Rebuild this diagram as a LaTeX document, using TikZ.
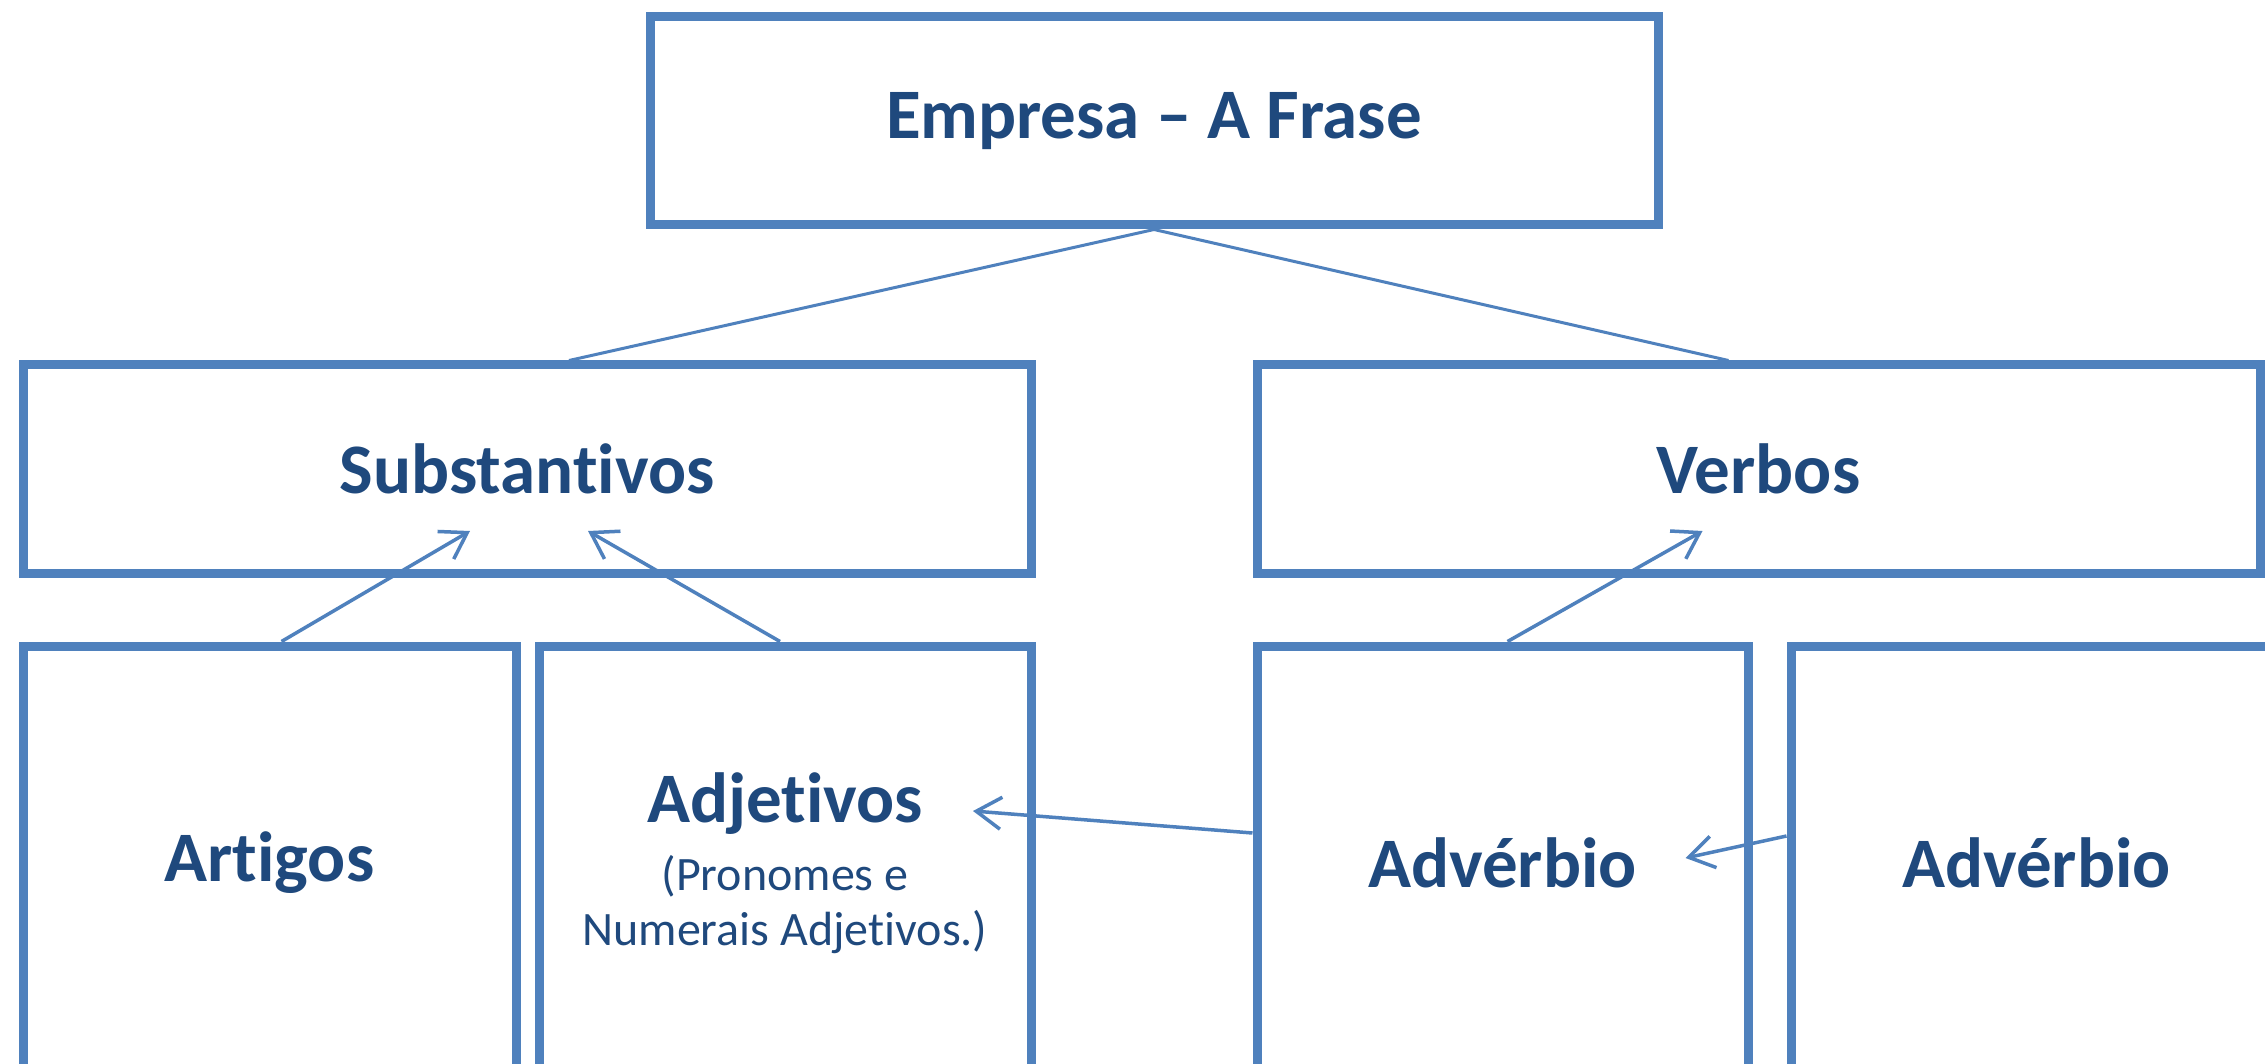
\documentclass[tikz,border=0pt]{standalone}
\usepackage{fontspec}
\setmainfont{Carlito}[Ligatures={TeX,NoCommon}]
\usetikzlibrary{arrows.meta}
\definecolor{boxblue}{HTML}{4F81BD}
\definecolor{txtblue}{HTML}{1F497D}
\begin{document}
\begin{tikzpicture}[x=1pt,y=-1pt,
  box/.style={draw=boxblue, line width=9pt, inner sep=0pt, text=txtblue,
    font=\fontsize{71}{80}\selectfont\bfseries, align=center},
  topbox/.style={box, minimum width=1008pt, minimum height=208pt},
  midbox/.style={box, minimum height=208pt},
  lowbox/.style={box, minimum width=492pt, minimum height=434pt},
  conn/.style={draw=boxblue, line width=3pt},
  arr/.style={draw=boxblue, line width=3.5pt,
    -{Straight Barb[length=25pt,width=32pt,line width=3.5pt]}}]
\useasboundingbox (0,0) rectangle (2265,1064);
\clip (0,0) rectangle (2265,1064);
\fill[white] (0,0) rectangle (2265,1064);
% boxes
\node[topbox] (top) at (1154,121) {Empresa – A Frase};
\node[midbox, minimum width=1008pt] (subs) at (527,469) {Substantivos};
\node[midbox, minimum width=1003pt] (verbos) at (1758.5,469) {Verbos};
\node[lowbox, minimum width=493pt] (art) at (269.5,863) {Artigos};
\node[lowbox] (adj) at (785,863) {Adjetivos\\[-12pt]{\fontsize{48}{55}\selectfont\mdseries (Pronomes e}\\[-25pt]{\fontsize{48}{55}\selectfont\mdseries Numerais Adjetivos.)}};
\node[lowbox, minimum width=491pt] (adv1) at (1502.5,863) {Advérbio};
\node[lowbox, minimum width=491pt] (adv2) at (2036.5,863) {Advérbio};
% connectors
\draw[conn] (top.south) -- ([xshift=42pt]subs.north);
\draw[conn] (top.south) -- ([xshift=-30pt]verbos.north);
% arrows
\draw[arr] ([xshift=12pt]art.north) -- ([shift={(-57,62)}]subs.center);
\draw[arr] ([xshift=-5pt]adj.north) -- ([shift={(61,62)}]subs.center);
\draw[arr] ([xshift=5pt]adv1.north) -- ([shift={(-56,62)}]verbos.center);
\draw[arr] ([yshift=30pt]adv1.west) -- ([shift={(188,-52)}]adj.center);
\draw[arr] ([yshift=27pt]adv2.west) -- ([shift={(183,-5)}]adv1.center);
\end{tikzpicture}
\end{document}
